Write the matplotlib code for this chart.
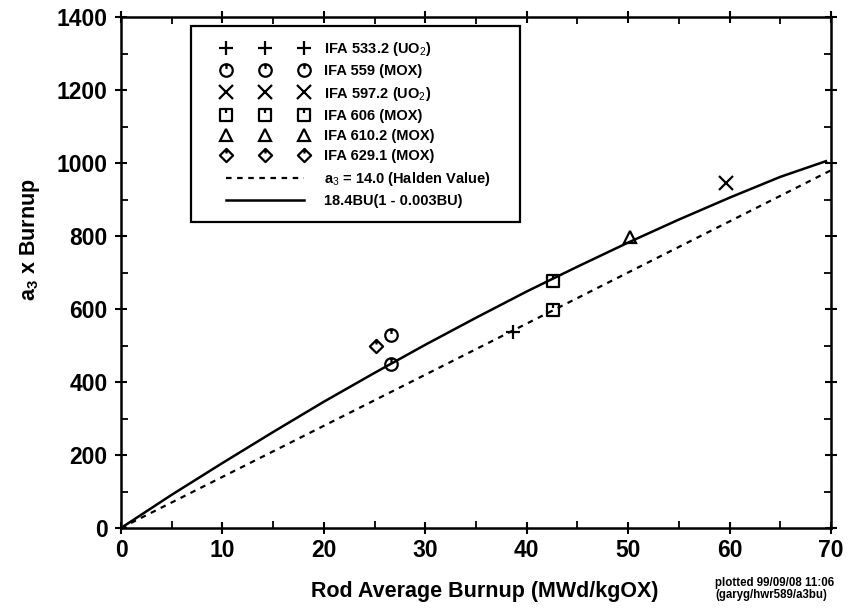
import numpy as np
import matplotlib
matplotlib.use("Agg")
import matplotlib.pyplot as plt
from matplotlib import font_manager
from matplotlib.path import Path
from matplotlib.patches import Rectangle
from matplotlib.ticker import MultipleLocator

plt.rcParams['font.family'] = ['Liberation Sans', 'DejaVu Sans']
plt.rcParams['mathtext.fontset'] = 'custom'
plt.rcParams['mathtext.rm'] = 'Liberation Sans'
plt.rcParams['mathtext.it'] = 'Liberation Sans'
plt.rcParams['mathtext.bf'] = 'Liberation Sans:bold'

# measured data (rod average burnup, a3 x burnup)
ifa533_x = [38.6]
ifa533_y = [538]
ifa559_x = [26.6, 26.6]
ifa559_y = [450, 530]
ifa597_x = [59.6]
ifa597_y = [944]
ifa606_x = [42.6, 42.6]
ifa606_y = [678, 596]
ifa610_x = [50.2]
ifa610_y = [796]
ifa629_x = [25.1]
ifa629_y = [498]

# reference lines
halden_x = [0, 70]
halden_y = [0, 980]
fit_x = [0, 5, 10, 15, 20, 25, 30, 35, 40, 45, 50, 55, 60, 65, 69.5]
fit_y = [0, 91, 178, 263, 346, 425, 502, 576, 648, 716, 782, 845, 905, 962, 1005]

# markers with the little tick from the top edge
def ticked(verts, tick_end=0.3):
    codes = [Path.MOVETO] + [Path.LINETO] * (len(verts) - 2) + [Path.CLOSEPOLY]
    body = Path(verts, codes)
    t = Path([[0, 1], [0, tick_end]], [Path.MOVETO, Path.LINETO])
    return Path.make_compound_path(body, t)

circ_m = Path.make_compound_path(Path.unit_circle(),
                                 Path([[0, 1], [0, 0.25]], [Path.MOVETO, Path.LINETO]))
sq_m = ticked([[-1, -1], [1, -1], [1, 1], [-1, 1], [-1, -1]])
dm_m = ticked([[0, -1], [1, 0], [0, 1], [-1, 0], [0, -1]])

# narrow face for the legend if there is one
names = {f.name for f in font_manager.fontManager.ttflist}
if 'Liberation Sans Narrow' in names:
    leg_font, leg_size = 'Liberation Sans Narrow', 12.5
else:
    leg_font, leg_size = 'Liberation Sans', 10.5

W, H = 860, 609
fig = plt.figure(figsize=(W / 100, H / 100), dpi=100)
ax = fig.add_axes([121 / W, 1 - 528 / H, 710 / W, 511 / H])

mk = dict(linestyle='none', color='black', mfc='none', mew=1.6)
ax.plot(ifa533_x, ifa533_y, marker='+', ms=10, label='IFA 533.2 (UO$_2$)', **mk)
ax.plot(ifa559_x, ifa559_y, marker=circ_m, ms=9, label='IFA 559 (MOX)', **mk)
ax.plot(ifa597_x, ifa597_y, marker='x', ms=9.5, label='IFA 597.2 (UO$_2$)', **mk)
ax.plot(ifa606_x, ifa606_y, marker=sq_m, ms=9, label='IFA 606 (MOX)', **mk)
ax.plot(ifa610_x, ifa610_y, marker='^', ms=8.5, label='IFA 610.2 (MOX)', **mk)
ax.plot(ifa629_x, ifa629_y, marker=dm_m, ms=9.5, label='IFA 629.1 (MOX)', **mk)
ax.plot(halden_x, halden_y, color='black', lw=1.6, linestyle=(0, (2.5, 2.5)),
        label='a$_3$ = 14.0 (Halden Value)')
ax.plot(fit_x, fit_y, color='black', lw=1.8, label='18.4BU(1 - 0.003BU)')

ax.set_xlim(0, 70)
ax.set_ylim(0, 1400)
ax.xaxis.set_major_locator(MultipleLocator(10))
ax.xaxis.set_minor_locator(MultipleLocator(5))
ax.yaxis.set_major_locator(MultipleLocator(200))
ax.yaxis.set_minor_locator(MultipleLocator(100))
ax.tick_params(which='major', direction='inout', length=9, width=1.5,
               top=True, right=True, labelsize=16.5)
ax.tick_params(axis='x', which='major', pad=3.5)
ax.tick_params(axis='y', which='major', pad=5)
ax.tick_params(which='minor', direction='in', length=5, width=1.3,
               top=True, right=True)
for lab in ax.get_xticklabels() + ax.get_yticklabels():
    lab.set_fontweight('bold')
for s in ax.spines.values():
    s.set_linewidth(1.8)

ax.set_xlabel('Rod Average Burnup (MWd/kgOX)', fontsize=15.5, fontweight='bold')
ax.xaxis.set_label_coords((485 - 121) / 710, (528 - 581) / 511)
ax.set_ylabel('a$_{\\mathbf{3}}$ x Burnup', fontsize=15.5, fontweight='bold')
ax.yaxis.set_label_coords((42 - 121) / 710, (528 - 240) / 511)

leg = ax.legend(loc='upper left', bbox_to_anchor=(222 / W, 1 - 40 / H),
                bbox_transform=fig.transFigure, numpoints=3,
                prop={'family': [leg_font, 'DejaVu Sans'], 'size': leg_size,
                      'weight': 'bold'},
                handlelength=86 / (leg_size * 100 / 72), handletextpad=1.1,
                labelspacing=0.43, borderpad=0, borderaxespad=0, frameon=False)
fig.add_artist(Rectangle((191 / W, 1 - 222 / H), (520 - 191) / W, (222 - 26) / H,
                         transform=fig.transFigure, fill=False, lw=1.6,
                         edgecolor='black'))

fig.text(715 / W, 1 - 577 / H, 'plotted 99/09/08 11:06\n(garyg/hwr589/a3bu)',
         fontsize=8.3, fontweight='bold', ha='left', va='top', linespacing=1.05)

fig.savefig('out.png', dpi=100)
